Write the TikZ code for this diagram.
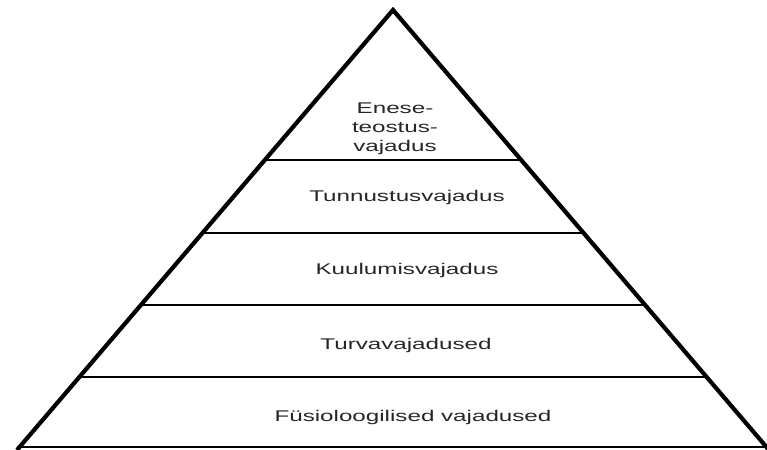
\documentclass[tikz,border=0pt]{standalone}
\usepackage{fontspec}
\usetikzlibrary{calc}
\newfontfamily\venitatud[FakeStretch=1.56]{Liberation Sans}
\tikzstyle{kylg} = [line width=4.2pt, line join=miter]
\tikzstyle{piir} = [line width=1.9pt]
\tikzstyle{tase} = [text centered, align=center, inner sep=0pt, text=black!85, font=\venitatud\fontsize{15.5}{18.8}\selectfont]

\begin{document}
\begin{tikzpicture}[x=1pt, y=-1pt]
    \useasboundingbox (0,0) rectangle (767,449);
    \clip (0,0) rectangle (767,449);
    \coordinate (tipp) at (393,10);
    \coordinate (vasak) at (17,450);
    \coordinate (parem) at (769,450);
    % vahejooned
    \draw [piir] ($(tipp)!0.3409!(vasak)$) -- ($(tipp)!0.3409!(parem)$);
    \draw [piir] ($(tipp)!0.5068!(vasak)$) -- ($(tipp)!0.5068!(parem)$);
    \draw [piir] ($(tipp)!0.6705!(vasak)$) -- ($(tipp)!0.6705!(parem)$);
    \draw [piir] ($(tipp)!0.8341!(vasak)$) -- ($(tipp)!0.8341!(parem)$);
    \draw [piir] ($(tipp)!0.9932!(vasak)$) -- ($(tipp)!0.9932!(parem)$);
    % kyljed
    \draw [kylg] (vasak) -- (tipp) -- (parem);
    \node(eneseteostus)[tase] at (395,129){Enese-\\teostus-\\vajadus};
    \node(tunnustus)[tase] at (407,197){Tunnustusvajadus};
    \node(kuulumis)[tase] at (407,270){Kuulumisvajadus};
    \node(turva)[tase] at (406,345){Turvavajadused};
    \node(fysio)[tase] at (413,417){Füsioloogilised vajadused};
\end{tikzpicture}
\end{document}
